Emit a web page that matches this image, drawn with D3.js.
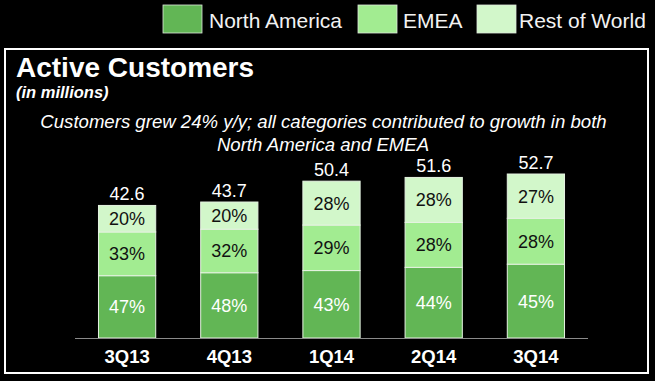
<!DOCTYPE html>
<html>
<head>
<meta charset="utf-8">
<script src="https://cdn.jsdelivr.net/npm/d3@7"></script>
<style>
  html, body { margin: 0; padding: 0; background: #000; }
  svg { display: block; }
</style>
</head>
<body>
<svg id="chart" width="655" height="381"></svg>
<script>
const categories = ["3Q13", "4Q13", "1Q14", "2Q14", "3Q14"];
const totals = [42.6, 43.7, 50.4, 51.6, 52.7];
const seriesNames = ["North America", "EMEA", "Rest of World"];
const northAmericaPct = [47, 48, 43, 44, 45];
const emeaPct = [33, 32, 29, 28, 28];
const restOfWorldPct = [20, 20, 28, 28, 27];
const colors = ["#62b655", "#a2ec91", "#d2f7ca"];

const svg = d3.select("#chart");
const W = 655, H = 381;
svg.append("rect").attr("width", W).attr("height", H).attr("fill", "#000");

const font = "'Liberation Sans', Arial, sans-serif";

// Legend
const legendPos = [{sx: 163, tx: 209}, {sx: 358, tx: 403}, {sx: 477, tx: 519}];
seriesNames.forEach((name, i) => {
  svg.append("rect").attr("x", legendPos[i].sx).attr("y", 5).attr("width", 39).attr("height", 28)
    .attr("fill", colors[i]).attr("stroke", "#dfe8dc").attr("stroke-width", 0.8);
  svg.append("text").attr("x", legendPos[i].tx).attr("y", 28)
    .attr("font-family", font).attr("font-size", 21).attr("fill", "#f2f2f2").text(name);
});

// Frame
svg.append("rect").attr("x", 5).attr("y", 49).attr("width", 643).attr("height", 324)
  .attr("fill", "none").attr("stroke", "#fff").attr("stroke-width", 2);

// Titles
svg.append("text").attr("x", 16).attr("y", 77).attr("font-family", font).attr("font-weight", "bold")
  .attr("font-size", 28).attr("fill", "#fff").text("Active Customers");
svg.append("text").attr("x", 16).attr("y", 98).attr("font-family", font).attr("font-weight", "bold")
  .attr("font-style", "italic").attr("font-size", 16.5).attr("fill", "#fff").text("(in millions)");
svg.append("text").attr("x", 323.5).attr("y", 128).attr("text-anchor", "middle").attr("font-family", font)
  .attr("font-style", "italic").attr("font-size", 18.6).attr("fill", "#fff")
  .text("Customers grew 24% y/y; all categories contributed to growth in both");
svg.append("text").attr("x", 323).attr("y", 150.5).attr("text-anchor", "middle").attr("font-family", font)
  .attr("font-style", "italic").attr("font-size", 18.6).attr("fill", "#fff")
  .text("North America and EMEA");

// Scales
const x = d3.scaleBand().domain(categories).range([76, 587]).paddingInner(0.44).paddingOuter(0.22);
const y = d3.scaleLinear().domain([0, 60]).range([338, 151.3]);

// Stack data
const rows = categories.map((c, i) => ({
  cat: c, total: totals[i],
  parts: [northAmericaPct[i], emeaPct[i], restOfWorldPct[i]]
}));

rows.forEach(r => {
  let cum = 0;
  r.parts.forEach((p, k) => {
    const v0 = r.total * cum / 100;
    cum += p;
    const v1 = r.total * cum / 100;
    const g = svg.append("g");
    g.append("rect")
      .attr("x", x(r.cat)).attr("width", x.bandwidth())
      .attr("y", y(v1)).attr("height", y(v0) - y(v1))
      .attr("fill", colors[k]).attr("stroke", "#e6f3e2").attr("stroke-width", 1);
    g.append("text")
      .attr("x", x(r.cat) + x.bandwidth() / 2)
      .attr("y", (y(v0) + y(v1)) / 2 + 6.5)
      .attr("text-anchor", "middle").attr("font-family", font).attr("font-size", 18)
      .attr("fill", k === 0 ? "#fff" : "#111").text(p + "%");
  });
  svg.append("text")
    .attr("x", x(r.cat) + x.bandwidth() / 2)
    .attr("y", y(r.total) - 5)
    .attr("text-anchor", "middle").attr("font-family", font).attr("font-size", 18)
    .attr("fill", "#fff").text(r.total.toFixed(1));
});

// Axis
const axis = d3.axisBottom(x).tickSize(0).tickPadding(12);
const ag = svg.append("g").attr("transform", `translate(0,${y(0)})`).call(axis);
ag.select(".domain").attr("stroke", "#8a8a8a").attr("stroke-width", 1.2).attr("d", "M75,0.5H588");
ag.selectAll(".tick text").attr("font-family", font).attr("font-weight", "bold")
  .attr("font-size", 18.5).attr("fill", "#fff").attr("dy", "0.71em");
</script>
</body>
</html>
